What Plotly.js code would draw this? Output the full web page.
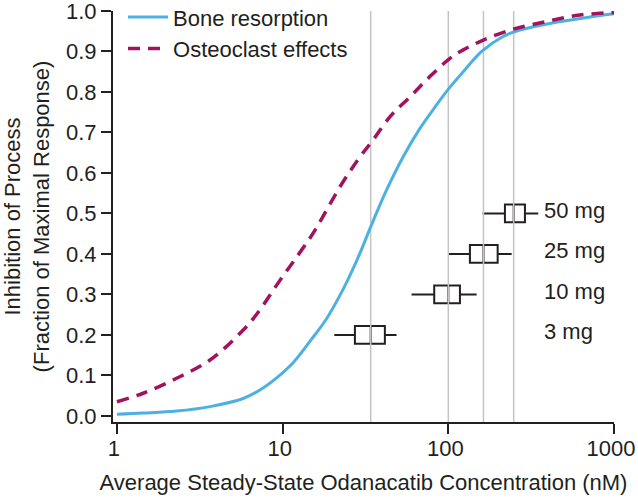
<!DOCTYPE html>
<html>
<head>
<meta charset="utf-8">
<script src="https://cdn.plot.ly/plotly-3.0.1.min.js"></script>
<style>html,body{margin:0;padding:0;background:#fff;}#chart{width:638px;height:502px;}</style>
</head>
<body>
<div id="chart"></div>
<script>
// ---- data ----
const boneX = [1, 1.44, 2.29, 3.64, 5.78, 7.29, 9.2, 11.6, 14.6, 18.4, 23.2, 29.3, 33.6, 42.4, 53.4, 67.4, 84.9, 100.9, 123, 159, 214, 270, 430, 683, 1000];
const boneY = [0.004, 0.007, 0.012, 0.023, 0.043, 0.064, 0.094, 0.132, 0.184, 0.240, 0.313, 0.402, 0.462, 0.558, 0.64, 0.71, 0.768, 0.809, 0.85, 0.9, 0.937, 0.953, 0.971, 0.984, 0.993];
const osteoX = [1, 1.44, 2.29, 3.64, 5.78, 7.29, 9.2, 11.6, 14.6, 16.4, 22.2, 29.3, 34.5, 44.5, 58.7, 77.4, 102.3, 123, 162.5, 246, 392, 622, 1000];
const osteoY = [0.035, 0.056, 0.093, 0.138, 0.212, 0.262, 0.323, 0.381, 0.439, 0.472, 0.566, 0.64, 0.677, 0.739, 0.788, 0.838, 0.883, 0.904, 0.928, 0.955, 0.974, 0.99, 0.996];
const doseLabels = ['3 mg', '10 mg', '25 mg', '50 mg'];
const doseY = [0.2, 0.3, 0.4, 0.5];
const doseLow = [20.5, 60.0, 100.9, 161];
const doseQ1 = [27.3, 82.2, 135, 219.6];
const doseMed = [34, 100, 163, 248];
const doseQ3 = [41.4, 117.5, 198.5, 290];
const doseHigh = [48.7, 148.2, 241, 349];
const refLinesX = [34, 100, 163, 248];
const xTickVals = [1, 10, 100, 1000];
const xTickText = ['1', '10', '100', '1000'];

// ---- styling / layout ----
const FONT = '"Liberation Sans", Arial, Helvetica, sans-serif';
const INK = '#231f20';
const yRange = [-0.015, 1.0];

const traces = [];
traces.push({
  type: 'scatter', mode: 'lines',
  x: refLinesX.flatMap(v => [v, v, null]),
  y: refLinesX.flatMap(() => [yRange[0], yRange[1], null]),
  line: {color: '#c4c4c4', width: 1.5},
  showlegend: false, hoverinfo: 'skip'
});
traces.push({
  type: 'scatter', mode: 'lines', name: 'Bone resorption',
  x: boneX, y: boneY,
  line: {color: '#4db0e2', width: 3, shape: 'spline', smoothing: 1}
});
traces.push({
  type: 'scatter', mode: 'lines', name: 'Osteoclast effects',
  x: osteoX, y: osteoY,
  line: {color: '#a0145f', width: 3.5, dash: '12px,8px', shape: 'spline', smoothing: 1}
});
traces.push({
  type: 'box', orientation: 'h',
  y: doseY, q1: doseQ1, median: doseMed, q3: doseQ3,
  lowerfence: doseLow, upperfence: doseHigh,
  width: 0.044, whiskerwidth: 0, boxpoints: false,
  line: {color: INK, width: 2}, fillcolor: 'rgba(255,255,255,1)',
  showlegend: false, hoverinfo: 'skip'
});

const annotations = doseLabels.map((t, i) => ({
  xref: 'paper', yref: 'y', x: 0.856, y: doseY[i], yshift: 3,
  text: t, showarrow: false, xanchor: 'left', yanchor: 'middle',
  font: {family: FONT, size: 22, color: INK}
}));

const layout = {
  width: 638, height: 502,
  margin: {l: 113, r: 24, t: 11, b: 80, autoexpand: false},
  paper_bgcolor: '#fff', plot_bgcolor: '#fff',
  font: {family: FONT, size: 22, color: INK},
  showlegend: true,
  legend: {
    x: 0.02, y: 1.036, xanchor: 'left', yanchor: 'top',
    bgcolor: 'rgba(0,0,0,0)', borderwidth: 0, itemwidth: 40,
    font: {family: FONT, size: 22, color: INK}, tracegroupgap: 0
  },
  xaxis: {
    type: 'log', range: [-0.024, 3.0],
    tickvals: xTickVals, ticktext: xTickText,
    ticks: 'outside', ticklen: 10, tickwidth: 2, tickcolor: INK,
    ticklabelstandoff: -4, ticklabelshift: -3, ticklabeloverflow: 'allow',
    showline: true, linewidth: 2, linecolor: INK,
    showgrid: false, zeroline: false,
    tickfont: {family: FONT, size: 22, color: INK},
    title: {text: 'Average Steady-State Odanacatib Concentration (nM)', font: {family: FONT, size: 22, color: INK}, standoff: 14}
  },
  yaxis: {
    range: yRange, dtick: 0.1, tick0: 0, tickformat: '.1f',
    ticks: 'outside', ticklen: 10, tickwidth: 2, tickcolor: INK,
    ticklabeloverflow: 'allow',
    showline: true, linewidth: 2, linecolor: INK,
    showgrid: false, zeroline: false,
    tickfont: {family: FONT, size: 22, color: INK},
    title: {text: 'Inhibition of Process<br>(Fraction of Maximal Response)', font: {family: FONT, size: 22, color: INK}, standoff: 14}
  },
  annotations: annotations
};

Plotly.newPlot('chart', traces, layout, {displayModeBar: false, staticPlot: true});
</script>
</body>
</html>
